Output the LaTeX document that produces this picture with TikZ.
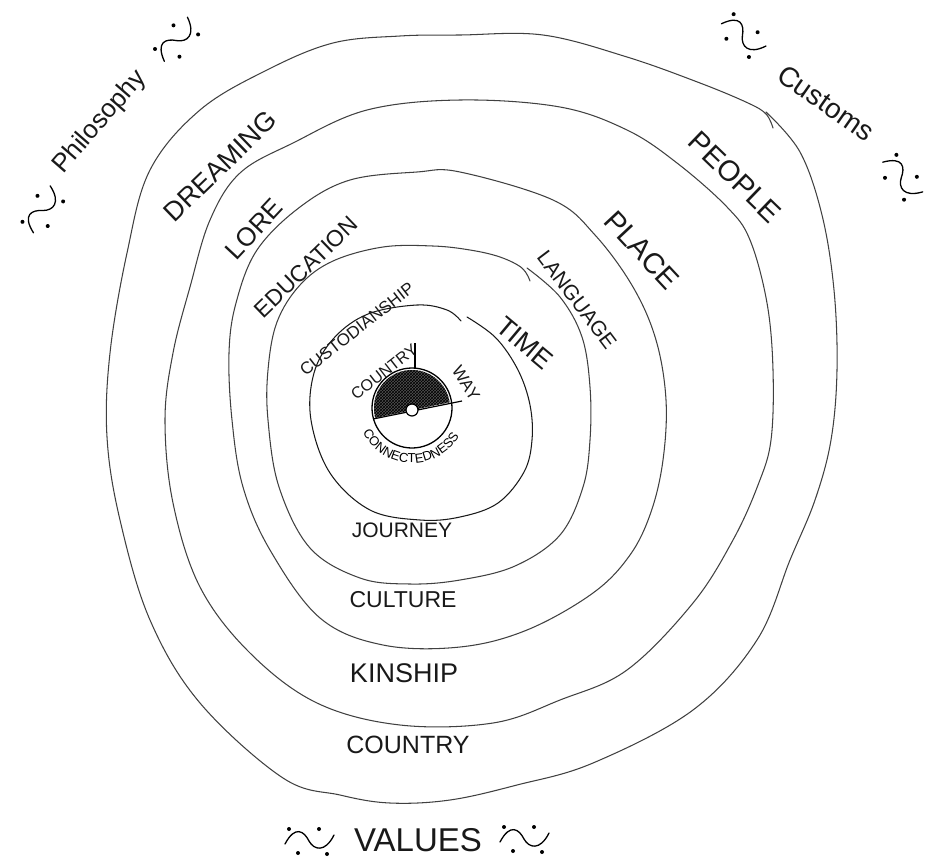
\documentclass[tikz,border=0pt]{standalone}
\usepackage{fontspec}
\setmainfont{Liberation Sans}
\usetikzlibrary{decorations.text,patterns}
\begin{document}
\begin{tikzpicture}[x=1pt,y=-1pt,
  ring/.style={draw=black!75, line width=1.05pt, line cap=round},
  lbl/.style={font=\fontsize{#1}{#1}\selectfont, inner sep=0pt, text=black!90},
  squig/.pic={
    \draw[line width=1.3pt, line cap=round] (-24,4) .. controls (-14,-15) and (-5,-9) .. (0,1) .. controls (5,10) and (16,13) .. (25,-5);
    \fill (-20,-11) circle[radius=2];
    \fill (-11,13) circle[radius=2];
    \fill (10,-11) circle[radius=2];
    \fill (18,14) circle[radius=2];
  }]
\useasboundingbox (0,0) rectangle (942,857);

% rings (open where the pen was lifted)
\draw[ring] plot[smooth, tension=0.6] coordinates {
 (766,112) (800,152) (822,215) (834,290) (837,370) (831,440) (815,500) (790,560)
 (757,640) (693,710) (593,763) (517,785) (450,800) (390,803) (340,795) (283,778)
 (200,703) (150,620) (120,520) (107,437) (110,353) (127,253) (150,170) (200,110)
 (267,70) (333,43) (400,36) (460,35) (543,35) (627,57) (700,83) (748,103) (766,114) (773,128)};
\draw[ring] plot[smooth cycle, tension=0.6] coordinates {
 (460,100) (560,107) (627,130) (677,163) (727,207) (750,240) (767,303) (773,370)
 (771,440) (758,485) (733,540) (693,603) (627,670) (560,700) (493,723) (400,725)
 (317,703) (250,653) (200,587) (173,503) (165,420) (173,353) (190,287) (210,220)
 (240,173) (293,143) (367,110)};
\draw[ring] plot[smooth cycle, tension=0.6] coordinates {
 (460,172) (553,200) (595,235) (633,287) (656,340) (666,400) (663,460) (651,512)
 (630,555) (593,593) (527,630) (460,647) (383,645) (320,618) (270,550) (243,487)
 (232,420) (229,353) (236,303) (257,250) (300,207) (350,180) (417,172)};
\draw[ring] plot[smooth, tension=0.6] coordinates {
 (527,268) (560,297) (582,337) (590,387) (590,440) (583,487) (560,535) (515,566)
 (460,580) (410,584) (360,578) (310,548) (279,487) (268,420) (268,370) (277,322)
 (300,285) (333,261) (383,247) (433,246) (470,250) (500,257) (522,268) (530,281)};
\draw[ring, draw=black!90] plot[smooth, tension=0.6] coordinates {
 (467,317) (496,338) (518,370) (530,405) (532,440) (524,472) (498,503) (460,517)
 (420,520) (370,510) (330,473) (311,420) (314,373) (334,338) (368,314) (417,305)
 (447,310) (461,321)};

% centre disc
\coordinate (c) at (412,408);
\begin{scope}
  \clip (c) circle[radius=38];
  \fill[black!68] (360,421) -- (470,398) -- (470,360) -- (360,360) -- cycle;
  \fill[pattern=crosshatch, pattern color=black] (360,421) -- (470,398) -- (470,360) -- (360,360) -- cycle;
\end{scope}
\draw[line width=1.3pt] (c) circle[radius=40];
\draw[line width=1.2pt] (373,419) -- (462,401);
\draw[line width=1.2pt, fill=white] (412,410) circle[radius=6];
\draw[line width=1.2pt] (415,343) -- (415,368);

% curved label round the disc
\path[decorate, decoration={text along path, text align=center,
  text={|\fontsize{13}{13}\selectfont|CONNECTEDNESS}}]
  (c) ++(164:55) arc[start angle=164, end angle=20, radius=55];

% labels
\node[lbl=16, rotate=38] (country1) at (384,372) {COUNTRY};
\node[lbl=17, rotate=-58] (way) at (466,383) {WAY};
\node[lbl=17, rotate=38] (custod) at (357,329) {CUSTODIANSHIP};
\node[lbl=23, rotate=44] (educ) at (306,267) {EDUCATION};
\node[lbl=26, rotate=47] (lore) at (254,229) {LORE};
\node[lbl=27, rotate=44] (dream) at (220,166) {DREAMING};
\node[lbl=27, rotate=-40] (time) at (525,343) {TIME};
\node[lbl=21, rotate=-53] (lang) at (577,300) {LANGUAGE};
\node[lbl=29, rotate=-47] (place) at (642,250) {PLACE};
\node[lbl=29, rotate=-44] (people) at (735,177) {PEOPLE};
\node[lbl=21] (journey) at (402,530) {JOURNEY};
\node[lbl=23] (culture) at (403,600) {CULTURE};
\node[lbl=27] (kinship) at (404,673) {KINSHIP};
\node[lbl=25] (country2) at (408,745) {COUNTRY};

\node[lbl=26, rotate=49] (philo) at (100,122) {Philosophy};
\node[lbl=28, rotate=-35] (customs) at (826,103) {Customs};
\node[lbl=33] (values) at (418,840) {VALUES};

% squiggles
\pic[rotate=60] (sqa) at (42,210) {squig};
\pic[rotate=52] (sqb) at (176,40) {squig};
\pic[rotate=-37] (sqc) at (743,35) {squig};
\pic[rotate=-47] (sqd) at (902,177) {squig};
\pic (sqe) at (309,840) {squig};
\pic (sqf) at (524,838) {squig};
\end{tikzpicture}
\end{document}
